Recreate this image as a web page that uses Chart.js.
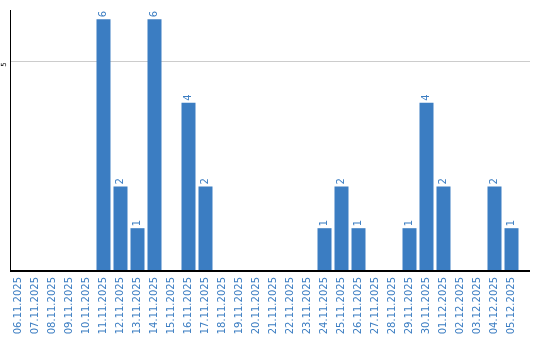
<!DOCTYPE html>
<html>
<head>
<meta charset="utf-8">
<script src="https://cdn.jsdelivr.net/npm/chart.js@4"></script>
<style>
    body { margin: 0; background: #fff; }
    canvas { display: block; }
</style>
</head>
<body>
<canvas id="grafico" width="540" height="340"></canvas>
<script>
const dias = ["06.11.2025", "07.11.2025", "08.11.2025", "09.11.2025", "10.11.2025", "11.11.2025", "12.11.2025", "13.11.2025", "14.11.2025", "15.11.2025",
    "16.11.2025", "17.11.2025", "18.11.2025", "19.11.2025", "20.11.2025", "21.11.2025", "22.11.2025", "23.11.2025", "24.11.2025", "25.11.2025",
    "26.11.2025", "27.11.2025", "28.11.2025", "29.11.2025", "30.11.2025", "01.12.2025", "02.12.2025", "03.12.2025", "04.12.2025", "05.12.2025"];
const valores = [0, 0, 0, 0, 0, 6, 2, 1, 6, 0,
    4, 2, 0, 0, 0, 0, 0, 0, 1, 2,
    1, 0, 0, 1, 4, 2, 0, 0, 2, 1];
const ticksY = [5];

const azul = '#3b7dc2';
const fonte = '"DejaVu Sans", Verdana, sans-serif';

// linhas dos eixos e da grade, esticadas até a borda direita
const linhas = {
    id: 'linhas',
    beforeDatasetsDraw(chart) {
        const { ctx, chartArea: a, scales: { y } } = chart;
        ctx.save();
        ctx.strokeStyle = '#cccccc';
        ctx.lineWidth = 1;
        ctx.fillStyle = '#000';
        ctx.font = '7px ' + fonte;
        ctx.textAlign = 'center';
        ctx.textBaseline = 'middle';
        ticksY.forEach(v => {
            const py = Math.round(y.getPixelForValue(v)) + 0.5;
            ctx.beginPath(); ctx.moveTo(a.left, py); ctx.lineTo(530, py); ctx.stroke();
            ctx.save();
            ctx.translate(4, py + 3);
            ctx.rotate(-Math.PI / 2);
            ctx.fillText(String(v), 0, 0);
            ctx.restore();
        });
        ctx.restore();
    },
    afterDatasetsDraw(chart) {
        const { ctx, chartArea: a, scales: { y } } = chart;
        ctx.save();
        ctx.strokeStyle = '#000';
        ctx.lineWidth = 1;
        ctx.beginPath(); ctx.moveTo(a.left + 0.5, a.top); ctx.lineTo(a.left + 0.5, a.bottom); ctx.stroke();
        ctx.lineWidth = 2;
        const py = Math.round(y.getPixelForValue(0)) + 1;
        ctx.beginPath(); ctx.moveTo(a.left, py); ctx.lineTo(530, py); ctx.stroke();

        // rótulos de valor
        ctx.fillStyle = azul;
        ctx.font = '10px ' + fonte;
        ctx.textAlign = 'left';
        ctx.textBaseline = 'middle';
        chart.getDatasetMeta(0).data.forEach((bar, i) => {
            if (!valores[i]) return;
            ctx.save();
            ctx.translate(bar.x, bar.y - 2);
            ctx.rotate(-Math.PI / 2);
            ctx.fillText(String(valores[i]), 0, 0);
            ctx.restore();
        });
        ctx.restore();
    }
};

new Chart(document.getElementById('grafico').getContext('2d'), {
    type: 'bar',
    data: {
        labels: dias,
        datasets: [{
            data: valores,
            backgroundColor: azul,
            borderWidth: 0,
            barPercentage: 0.8235,
            categoryPercentage: 1
        }]
    },
    options: {
        responsive: false,
        animation: false,
        layout: { padding: { top: 10, right: 20, left: 0, bottom: 0 } },
        plugins: { legend: { display: false }, tooltip: { enabled: false } },
        scales: {
            x: {
                grid: { display: false, drawTicks: false },
                border: { display: false },
                ticks: {
                    color: azul,
                    font: { family: fonte, size: 10 },
                    minRotation: 90,
                    maxRotation: 90,
                    autoSkip: false,
                    padding: 7
                },
                afterFit: s => { s.height = 70; }
            },
            y: {
                min: 0,
                max: 6.22,
                grid: { display: false, drawTicks: false },
                border: { display: false },
                afterBuildTicks: s => { s.ticks = ticksY.map(v => ({ value: v })); },
                ticks: { display: false },
                afterFit: s => { s.width = 10; }
            }
        }
    },
    plugins: [linhas]
});
</script>
</body>
</html>
